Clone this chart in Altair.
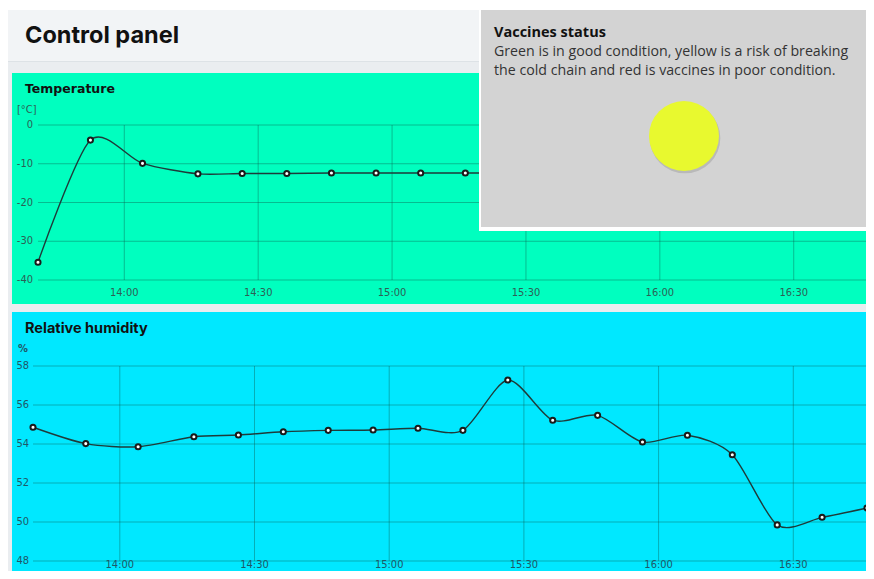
import altair as alt
import pandas as pd

DAY = "2024-05-01"

# ---- data ----
times = ["13:40:40", "13:52:25", "14:04:05", "14:16:30", "14:26:25", "14:36:25",
         "14:46:25", "14:56:25", "15:06:25", "15:16:25", "15:26:25", "15:36:25",
         "15:46:25", "15:56:25", "16:06:25", "16:16:25", "16:26:25", "16:36:25",
         "16:46:25"]
temperature = [-35.4, -3.9, -9.9, -12.6, -12.5, -12.5, -12.4, -12.4, -12.4, -12.4, -12.4]
humidity = [54.86, 54.02, 53.86, 54.37, 54.46, 54.63, 54.70, 54.72, 54.81, 54.70,
            57.28, 55.22, 55.47, 54.10, 54.45, 53.45, 49.85, 50.24, 50.72]
tick_labels = ["14:00", "14:30", "15:00", "15:30", "16:00", "16:30"]
temp_ticks = [-40, -30, -20, -10, 0]
hum_ticks = [48, 50, 52, 54, 56, 58]

title_text = "Control panel"
temp_title = "Temperature"
temp_unit = "[°C]"
hum_title = "Relative humidity"
hum_unit = "%"
status_title = "Vaccines status"
status_lines = ["Green is in good condition, yellow is a risk of breaking",
                "the cold chain and red is vaccines in poor condition."]

# ---- styles ----
W, H = 858, 563
GREEN = "#00ffbf"
CYAN = "#00e8ff"
PAGE = "#eaedf0"
HEADER = "#f2f4f6"
BOX = "#d3d3d3"
LINE = "#1e3b3a"
GRID = "#0c5a4c"
LABEL_FONT = "'DejaVu Sans Condensed', 'Liberation Sans Narrow', 'Roboto', sans-serif"


def dt(t):
    h, m, s = (int(v) for v in t.split(":"))
    return alt.DateTime(year=2024, month=5, date=1, hours=h, minutes=m, seconds=s)


def stamp(t):
    return f"{DAY}T{t}"


one = alt.Data(values=[{}])


def rect(x, x2, y, y2, color, **kw):
    return alt.Chart(one).mark_rect(color=color, **kw).encode(
        x=alt.value(x), x2=alt.value(x2), y=alt.value(y), y2=alt.value(y2))


def text(x, y, s, size, weight="normal", color="#111111", font="Inter"):
    return alt.Chart(one).mark_text(
        align="left", baseline="middle", fontSize=size, fontWeight=weight,
        color=color, font=font).encode(x=alt.value(x), y=alt.value(y), text=alt.value(s))


tick_times = [stamp(t + ":00") for t in tick_labels]


def panel(values, yticks, x_range, y_range, label_color, x_dy, y_dx, x_base):
    df = pd.DataFrame({"time": [stamp(t) for t in times[:len(values)]], "value": values})
    gx = pd.DataFrame({"time": tick_times, "lo": yticks[0], "hi": yticks[-1],
                       "lbl": tick_labels})
    gy = pd.DataFrame({"v": yticks, "t0": stamp(times[0]), "t1": stamp(times[-1]),
                       "lbl": [str(v) for v in yticks]})
    xs = alt.Scale(domain=[dt(times[0]), dt(times[-1])], range=x_range)
    ys = alt.Scale(domain=[yticks[0], yticks[-1]], range=y_range)
    X = lambda f: alt.X(f, scale=xs, axis=None)
    Y = lambda f: alt.Y(f, scale=ys, axis=None)
    grid_x = alt.Chart(gx).mark_rule(color=GRID, strokeWidth=1, opacity=0.4).encode(
        x=X("time:T"), y=Y("lo:Q"), y2="hi:Q")
    grid_y = alt.Chart(gy).mark_rule(color=GRID, strokeWidth=1, opacity=0.4).encode(
        y=Y("v:Q"), x=X("t0:T"), x2="t1:T")
    x_lab = alt.Chart(gx).mark_text(dy=x_dy, align="center", baseline=x_base,
                                    font=LABEL_FONT, fontSize=11, color=label_color).encode(
        x=X("time:T"), y=Y("lo:Q"), text="lbl:N")
    y_lab = alt.Chart(gy).mark_text(dx=y_dx, align="right", baseline="middle",
                                    font=LABEL_FONT, fontSize=11, color=label_color).encode(
        x=X("t0:T"), y=Y("v:Q"), text="lbl:N")
    line = alt.Chart(df).mark_line(color=LINE, strokeWidth=1.4, interpolate="cardinal",
                                   tension=0.2).encode(x=X("time:T"), y=Y("value:Q"))
    pts = alt.Chart(df).mark_point(filled=False, fill="white", fillOpacity=1, stroke="#1a1a1a",
                                   strokeWidth=2, size=26, opacity=1).encode(
        x=X("time:T"), y=Y("value:Q"))
    return alt.layer(grid_x, grid_y, x_lab, y_lab, line, pts)


temp_chart = panel(temperature, temp_ticks, [30, 859], [272, 117], "#2c5f56", 16, -5,
                   "alphabetic")
hum_chart = panel(humidity, hum_ticks, [25, 859], [553, 358], "#1f5868", 9, -4, "bottom")

background = [
    rect(-1, W, 2, H, PAGE),
    rect(-1, 472, 2, 53, HEADER),
    rect(-1, 472, 53, 54, "#dde2e6"),
    rect(4, W, 65, 296, GREEN),
    rect(4, W, 304, H, CYAN),
]

foreground = [
    rect(471, W, 2, 223, "#ffffff"),
    rect(473, W, 2, 219, BOX),
    alt.Chart(one).mark_circle(size=5000, color="#000000", opacity=0.12).encode(
        x=alt.value(677), y=alt.value(130)),
    alt.Chart(one).mark_circle(size=4900, color="#e8f92f", opacity=1).encode(
        x=alt.value(676), y=alt.value(128)),
    text(17, 28, title_text, 23.5, "bold"),
    text(17, 81, temp_title, 12.5, "bold", font="DejaVu Sans"),
    text(9, 102, temp_unit, 11, color="#2c5f56", font=LABEL_FONT),
    text(17, 321, hum_title, 14.5, "bold"),
    text(10, 341, hum_unit, 11, "bold", color="#1f5868", font=LABEL_FONT),
    text(486, 25, status_title, 14.5, "bold", font="Open Sans"),
    text(486, 44, status_lines[0], 14.2, color="#333333", font="Open Sans"),
    text(486, 63, status_lines[1], 14.2, color="#333333", font="Open Sans"),
]

chart = alt.layer(*background, temp_chart, hum_chart, *foreground).resolve_scale(
    x="independent", y="independent"
).properties(
    width=W, height=H, padding=0,
    autosize=alt.AutoSizeParams(type="none"),
).configure(background="white").configure_view(stroke=None)

chart.save("out.html", embed_options={"renderer": "svg", "actions": False})
